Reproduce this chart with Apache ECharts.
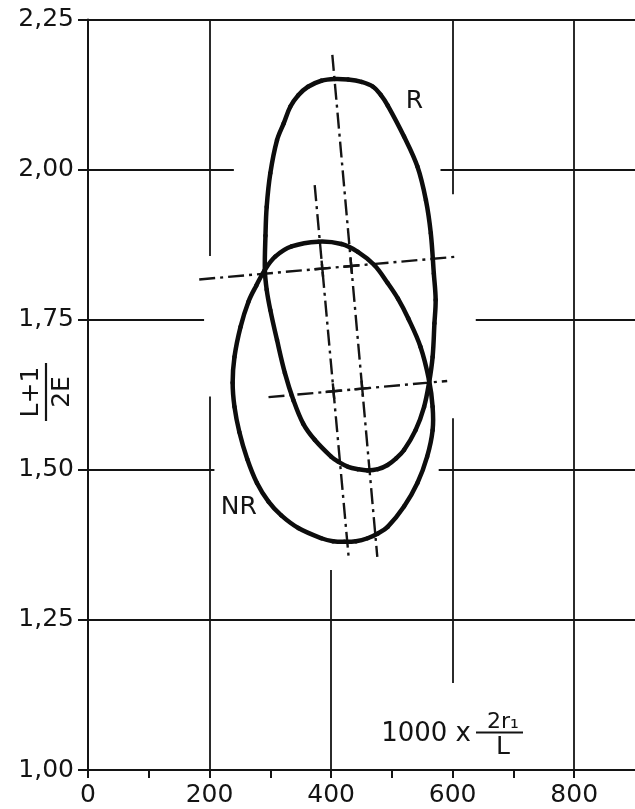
<!DOCTYPE html>
<html><head><meta charset="utf-8">
<script src="https://cdn.jsdelivr.net/npm/echarts@6/dist/echarts.min.js"></script>
<style>html,body{margin:0;padding:0;background:#fff}#c{width:635px;height:809px}</style>
</head><body><div id="c"></div>
<script>
// Curve R (closed loop), traced clockwise from the top
const curveR = [
  [406,2.151],[428,2.150],[450,2.146],[469,2.138],[482,2.124],[493,2.107],[520,2.055],
  [542,2.005],[556,1.949],[564,1.894],[569,1.827],[572,1.783],[570,1.744],[567,1.688],
  [561,1.644],[553,1.605],[539,1.566],[520,1.533],[507,1.519],[493,1.508],[477,1.501],
  [460,1.499],[444,1.501],[428,1.505],[411,1.514],[400,1.522],[373,1.550],[354,1.577],
  [338,1.616],[324,1.661],[311,1.716],[300,1.766],[294,1.800],[291,1.833],[292,1.890],
  [294,1.938],[300,1.994],[311,2.049],[322,2.077],[333,2.105],[346,2.124],[362,2.138],
  [384,2.148]
];
// Curve NR (closed loop), traced clockwise from the top
const curveNR = [
  [379,1.880],[417,1.876],[444,1.863],[471,1.841],[493,1.811],[510,1.785],[527,1.752],
  [547,1.705],[561,1.650],[567,1.605],[567,1.566],[558,1.522],[542,1.478],[520,1.439],
  [493,1.405],[477,1.394],[460,1.386],[441,1.381],[422,1.380],[403,1.381],[384,1.386],
  [346,1.403],[318,1.424],[297,1.447],[278,1.478],[262,1.518],[249,1.563],[241,1.605],
  [238,1.645],[241,1.688],[251,1.738],[264,1.780],[277,1.807],[291,1.833],[308,1.855],
  [335,1.872]
];
// Dash-dot construction lines
const axisR = [[402,2.191],[476,1.355]];
const axisNR = [[373,1.974],[429,1.353]];
const crossUpper = [[183,1.817],[607,1.855]];
const crossLower = [[297,1.621],[591,1.648]];
// Hand-drawn grid segments (broken around the curves)
const hGrid = [[2.25,0,900],[2.00,0,240],[2.00,580,900],[1.75,0,191],[1.75,638,900],
               [1.50,0,208],[1.50,577,900],[1.25,0,900]];
const vGrid = [[200,1.856,2.25],[200,1.00,1.622],[400,1.00,1.333],[600,1.959,2.25],
               [600,1.145,1.586],[800,1.00,2.25]];
const xLabelStep = 200;

const FONT = 'DejaVu Sans';
const INK = '#141414';
const chart = echarts.init(document.getElementById('c'), null, {renderer:'canvas'});

const gridData = hGrid.map(s => ({coords:[[s[1],s[0]],[s[2],s[0]]]}))
  .concat(vGrid.map(s => ({coords:[[s[0],s[1]],[s[0],s[2]]]})));
const dashData = [axisR, axisNR, crossUpper, crossLower].map(l => ({coords:l}));

// Closed smooth loop through the traced points, positioned by the axes' scales
function loopSeries(name, pts) {
  const SM = 0.36;
  return {
    type:'custom', name:name, coordinateSystem:'cartesian2d', silent:true,
    data:pts, encode:{x:0, y:1},
    renderItem:function (params, api) {
      if (params.dataIndex !== 0) return null;
      const P = pts.map(p => api.coord(p));
      const n = P.length, children = [];
      const d = (a, b) => Math.hypot(b[0]-a[0], b[1]-a[1]);
      const ctrl = (prev, cur, next, forward) => {
        const l0 = d(prev, cur), l1 = d(cur, next);
        const r = forward ? l1/(l0+l1) : l0/(l0+l1);
        const s = forward ? 1 : -1;
        return [cur[0] + s*(next[0]-prev[0])*SM*r, cur[1] + s*(next[1]-prev[1])*SM*r];
      };
      for (let i = 0; i < n; i++) {
        const p0 = P[(i-1+n)%n], p1 = P[i], p2 = P[(i+1)%n], p3 = P[(i+2)%n];
        const c1 = ctrl(p0, p1, p2, true), c2 = ctrl(p1, p2, p3, false);
        children.push({type:'bezierCurve',
          shape:{x1:p1[0], y1:p1[1], x2:p2[0], y2:p2[1], cpx1:c1[0], cpy1:c1[1], cpx2:c2[0], cpy2:c2[1]},
          style:{stroke:'#0d0d0d', lineWidth:4.5, fill:null, lineCap:'round'}});
      }
      return {type:'group', children:children};
    }
  };
}

chart.setOption({
  animation:false,
  backgroundColor:'#fff',
  grid:{left:88, top:19.5, right:-4.25, bottom:39, containLabel:false},
  xAxis:{type:'value', min:0, max:900, interval:100,
    axisLine:{show:true, lineStyle:{color:INK, width:2}},
    axisTick:{show:true, length:8, lineStyle:{color:INK, width:2}},
    splitLine:{show:false},
    axisLabel:{color:INK, fontFamily:FONT, fontSize:25, margin:13, showMaxLabel:false,
      formatter:v => (v % xLabelStep === 0 ? String(v) : '')}},
  yAxis:{type:'value', min:1, max:2.25, interval:0.25,
    axisLine:{show:true, lineStyle:{color:INK, width:2}},
    axisTick:{show:true, length:10, lineStyle:{color:INK, width:2}},
    splitLine:{show:false},
    axisLabel:{color:INK, fontFamily:FONT, fontSize:25, margin:14,
      formatter:v => v.toFixed(2).replace('.', ',')}},
  series:[
    {type:'lines', coordinateSystem:'cartesian2d', polyline:false, silent:true,
     lineStyle:{color:INK, width:1.8, opacity:1}, data:gridData},
    {type:'lines', coordinateSystem:'cartesian2d', polyline:false, silent:true,
     lineStyle:{color:INK, width:2.4, opacity:1, type:[16,5,3,5]}, data:dashData},
    loopSeries('R', curveR),
    loopSeries('NR', curveNR)
  ]
});

const px = (x,y) => chart.convertToPixel({gridIndex:0}, [x,y]);

// Solid "+" marks where the dash-dot axes cross the dash-dot transversals
function pxLine(l) { return [px(l[0][0], l[0][1]), px(l[1][0], l[1][1])]; }
function crossMark(la, lb) {
  const [a0, a1] = pxLine(la), [b0, b1] = pxLine(lb);
  const r = [a1[0]-a0[0], a1[1]-a0[1]], s = [b1[0]-b0[0], b1[1]-b0[1]];
  const den = r[0]*s[1] - r[1]*s[0];
  const t = ((b0[0]-a0[0])*s[1] - (b0[1]-a0[1])*s[0]) / den;
  const c = [a0[0] + t*r[0], a0[1] + t*r[1]];
  const seg = (v, h) => { const L = Math.hypot(v[0], v[1]);
    return {type:'line', silent:true, shape:{x1:c[0]-v[0]/L*h, y1:c[1]-v[1]/L*h, x2:c[0]+v[0]/L*h, y2:c[1]+v[1]/L*h},
            style:{stroke:INK, lineWidth:2.4}}; };
  return [seg(r, 8), seg(s, 8)];
}
const marks = [].concat(
  crossMark(axisR, crossUpper), crossMark(axisNR, crossUpper),
  crossMark(axisR, crossLower), crossMark(axisNR, crossLower));

const pR = px(537, 2.114), pNR = px(248, 1.438);
chart.setOption({graphic:marks.concat([
  {type:'text', x:pR[0], y:pR[1], style:{text:'R', fill:INK, font:'25px "DejaVu Sans"', align:'center', verticalAlign:'middle'}},
  {type:'text', x:pNR[0], y:pNR[1], style:{text:'NR', fill:INK, font:'25px "DejaVu Sans"', align:'center', verticalAlign:'middle'}},
  // y-axis title: (L+1)/(2E), rotated
  {type:'group', x:46, y:392, rotation:Math.PI/2, children:[
    {type:'line', shape:{x1:-29, y1:0, x2:29, y2:0}, style:{stroke:INK, lineWidth:2.2}},
    {type:'text', x:0, y:-2, style:{text:'L+1', fill:INK, font:'25px "DejaVu Sans"', align:'center', verticalAlign:'bottom'}},
    {type:'text', x:0, y:4, style:{text:'2E', fill:INK, font:'25px "DejaVu Sans"', align:'center', verticalAlign:'top'}}
  ]},
  // x-axis title: 1000 x 2r1/L
  {type:'text', x:471, y:734, style:{text:'1000 x', fill:INK, font:'26px "DejaVu Sans"', align:'right', verticalAlign:'middle'}},
  {type:'line', shape:{x1:476, y1:732.5, x2:523, y2:732.5}, style:{stroke:INK, lineWidth:2.2}},
  {type:'text', x:503, y:733, style:{text:'2r\u2081', fill:INK, font:'22px "DejaVu Sans"', align:'center', verticalAlign:'bottom'}},
  {type:'text', x:503, y:735, style:{text:'L', fill:INK, font:'25px "DejaVu Sans"', align:'center', verticalAlign:'top'}}
])});
</script></body></html>
